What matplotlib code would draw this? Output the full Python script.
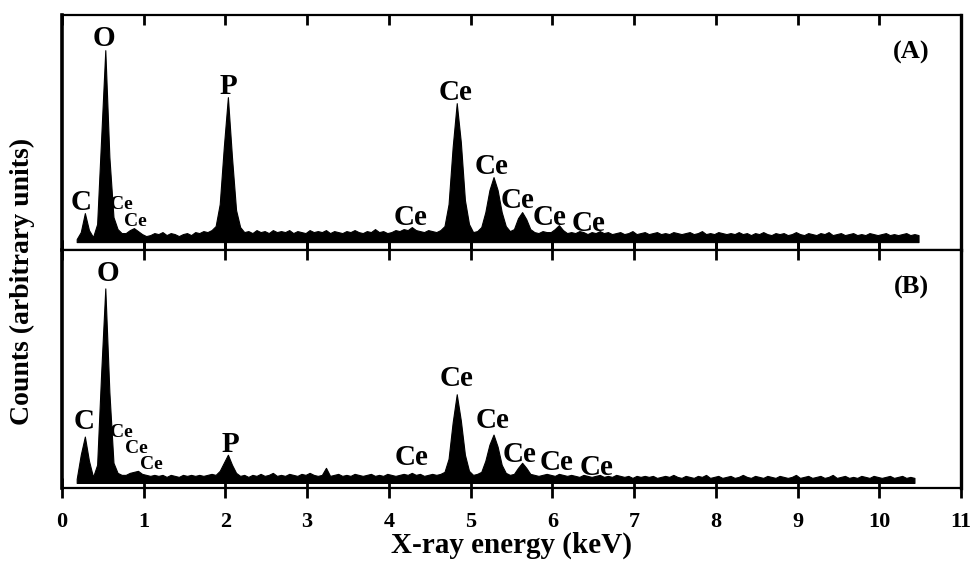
"""
EDS spectra (A) and (B): counts vs X-ray energy
"""
import numpy as np
import matplotlib.pyplot as plt

plt.rcParams['font.family'] = ['Liberation Serif', 'DejaVu Serif']
plt.rcParams['font.weight'] = 'bold'

# energy grid starts at 0.18 keV, step 0.05 keV (one value per channel below)
E0 = 0.18
DE = 0.05

# spectrum (A), counts in arbitrary units
counts_a = [
    3, 10, 29, 12, 5, 18, 105, 192, 85, 25,
    13, 9, 9, 12, 14, 11, 8, 6, 7, 9,
    8, 10, 7, 9, 8, 6, 8, 9, 7, 10,
    9, 11, 10, 12, 16, 38, 95, 145, 85, 32,
    15, 10, 11, 9, 12, 10, 11, 9, 12, 10,
    11, 10, 12, 9, 11, 10, 9, 12, 10, 11,
    10, 12, 9, 11, 10, 9, 11, 10, 12, 10,
    9, 11, 10, 13, 10, 11, 9, 10, 12, 11,
    13, 12, 15, 12, 11, 10, 12, 11, 10, 12,
    16, 38, 95, 139, 100, 42, 18, 10, 11, 15,
    30, 52, 65, 52, 30, 16, 11, 13, 24, 30,
    23, 13, 10, 9, 11, 10, 10, 13, 17, 12,
    9, 10, 9, 11, 10, 8, 10, 9, 11, 9,
    10, 8, 9, 10, 8, 9, 11, 8, 9, 10,
    8, 9, 10, 8, 9, 8, 10, 9, 8, 9,
    10, 8, 9, 11, 8, 9, 8, 10, 9, 8,
    9, 8, 10, 8, 9, 7, 9, 8, 10, 8,
    7, 9, 8, 9, 7, 8, 10, 8, 7, 9,
    8, 7, 9, 8, 10, 7, 8, 9, 7, 8,
    9, 7, 8, 7, 9, 8, 7, 8, 9, 7,
    8, 7, 8, 9, 7, 8, 7,
]

# spectrum (B)
counts_b = [
    4, 28, 46, 22, 6, 18, 110, 193, 90, 20,
    10, 8, 8, 10, 11, 12, 9, 8, 7, 8,
    7, 8, 6, 8, 7, 6, 8, 7, 8, 7,
    8, 7, 8, 9, 8, 12, 20, 28, 18, 10,
    7, 8, 6, 8, 7, 9, 7, 8, 10, 7,
    8, 7, 9, 8, 7, 9, 8, 10, 8, 7,
    8, 15, 7, 8, 9, 7, 8, 7, 9, 8,
    7, 8, 9, 7, 8, 7, 9, 8, 7, 8,
    9, 8, 10, 8, 9, 7, 8, 9, 8, 9,
    11, 24, 60, 88, 62, 28, 12, 8, 9, 11,
    22, 38, 48, 36, 18, 10, 8, 9, 15, 20,
    15, 9, 8, 7, 8, 9, 8, 7, 9, 8,
    7, 8, 7, 6, 8, 7, 6, 7, 8, 6,
    7, 6, 8, 7, 6, 7, 5, 7, 6, 7,
    6, 7, 5, 6, 7, 6, 8, 6, 5, 7,
    6, 5, 7, 6, 8, 5, 6, 7, 5, 6,
    7, 5, 6, 8, 6, 5, 7, 6, 5, 7,
    6, 5, 7, 6, 5, 6, 8, 5, 6, 7,
    5, 6, 7, 5, 6, 8, 5, 6, 7, 5,
    6, 5, 7, 6, 5, 7, 6, 5, 6, 7,
    5, 6, 7, 5, 6, 5,
]

# peak labels: (text, energy, height, small?)
labels_a = [
    ('O', 0.51, 204, False), ('C', 0.23, 40, False), ('Ce', 0.73, 38, True),
    ('Ce', 0.90, 21, True), ('P', 2.04, 156, False), ('Ce', 4.26, 25, False),
    ('Ce', 4.82, 150, False), ('Ce', 5.26, 76, False), ('Ce', 5.57, 42, False),
    ('Ce', 5.96, 25, False), ('Ce', 6.44, 19, False),
]
labels_b = [
    ('O', 0.56, 208, False), ('C', 0.27, 61, False), ('Ce', 0.73, 50, True),
    ('Ce', 0.91, 34, True), ('Ce', 1.09, 18, True), ('P', 2.06, 38, False),
    ('Ce', 4.28, 25, False), ('Ce', 4.83, 104, False), ('Ce', 5.27, 62, False),
    ('Ce', 5.60, 28, False), ('Ce', 6.05, 20, False), ('Ce', 6.54, 15, False),
]

xticks = list(range(0, 12))


def dibujar_panel(ax, counts, labels, tag, ylim):
    energia = E0 + DE * np.arange(len(counts))
    ax.fill_between(energia, 0, counts, color='black', linewidth=0.8, edgecolor='black')
    for txt, x, y, small in labels:
        ax.text(x, y, txt, ha='center', va='center', fontsize=14 if small else 21,
                fontweight='bold')
    ax.text(10.39, ylim[1] - 37, tag, ha='center', va='center', fontsize=19, fontweight='bold')
    ax.set_xlim(0, 11)
    ax.set_ylim(*ylim)
    ax.set_yticks([])
    ax.set_xticks(xticks)
    ax.spines['left'].set_linewidth(2.6)
    ax.spines['right'].set_linewidth(2.4)
    ax.spines['top'].set_linewidth(1.6)
    ax.spines['bottom'].set_linewidth(1.6)


fig = plt.figure(figsize=(9.73, 5.62), dpi=100)
ax1 = fig.add_axes([0.0637, 0.555, 0.924, 0.418])
ax2 = fig.add_axes([0.0637, 0.1317, 0.924, 0.4233])

dibujar_panel(ax1, counts_a, labels_a, '(A)', (-8, 227))
dibujar_panel(ax2, counts_b, labels_b, '(B)', (-5, 231))

# panel A: ticks pointing inward on top and bottom
ax1.tick_params(axis='x', top=True, bottom=True, direction='in',
                length=7, width=2, labelbottom=False)
# panel B: ticks crossing both the middle line and the bottom line
ax2.tick_params(axis='x', top=True, bottom=True, direction='inout', length=14, width=2,
                labelsize=16, pad=10, labeltop=False)
for lab in ax2.get_xticklabels():
    lab.set_fontweight('bold')

ax2.set_xlabel('X-ray energy (keV)', fontsize=21, fontweight='bold', labelpad=0)
fig.text(0.023, 0.5, 'Counts (arbitrary units)', rotation=90, ha='center', va='center',
         fontsize=20, fontweight='bold')

plt.savefig('out.png', dpi=100)
